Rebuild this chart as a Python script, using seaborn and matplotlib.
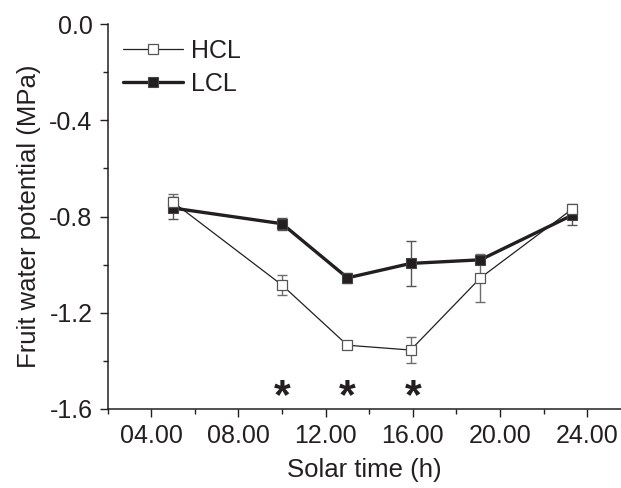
import numpy as np
import pandas as pd
import matplotlib
matplotlib.use("Agg")
import matplotlib.pyplot as plt
import seaborn as sns
from matplotlib.ticker import MultipleLocator

# datos
hours = [5, 10, 13, 15.9, 19.1, 23.3]
hcl = [-0.74, -1.085, -1.335, -1.355, -1.055, -0.77]
hcl_err = [0.035, 0.04, 0.01, 0.055, 0.10, 0.02]
lcl = [-0.765, -0.83, -1.055, -0.995, -0.98, -0.795]
lcl_err = [0.045, 0.025, 0.02, 0.095, 0.015, 0.04]
star_hours = [10, 13, 16]
x_ticks = [4, 8, 12, 16, 20, 24]
x_labels = ["04.00", "08.00", "12.00", "16.00", "20.00", "24.00"]
y_ticks = [0.0, -0.4, -0.8, -1.2, -1.6]
y_labels = ["0.0", "-0.4", "-0.8", "-1.2", "-1.6"]

sns.set_style("ticks")
plt.rcParams['font.family'] = ['Liberation Sans', 'DejaVu Sans']
plt.rcParams['axes.unicode_minus'] = False

df = pd.DataFrame({"hora": hours, "HCL": hcl, "LCL": lcl})

fig = plt.figure(figsize=(6.21, 4.88), dpi=100)
ax = fig.add_axes([0.1734, 0.1619, 0.8266, 0.7889])

ink = "#231f20"
# barras de error
ax.errorbar(hours, hcl, yerr=hcl_err, fmt="none", ecolor="#6d6d6d",
            elinewidth=1, capsize=3.5, capthick=1, zorder=2)
ax.errorbar(hours, lcl, yerr=lcl_err, fmt="none", ecolor="#555555",
            elinewidth=1, capsize=3.5, capthick=1, zorder=2)

sns.lineplot(data=df, x="hora", y="LCL", ax=ax, color=ink, lw=2.4,
             marker="s", markersize=7, markerfacecolor=ink,
             markeredgecolor="#444444", markeredgewidth=0.8, label="LCL", zorder=3)
sns.lineplot(data=df, x="hora", y="HCL", ax=ax, color=ink, lw=0.9,
             marker="s", markersize=7, markerfacecolor="white",
             markeredgecolor="#555555", markeredgewidth=0.9, label="HCL", zorder=4)

for h in star_hours:
    ax.text(h, -1.55, "*", ha="center", va="center", fontsize=31,
            fontweight="bold", color=ink)

ax.set_xlim(2, 25.55)
ax.set_ylim(-1.6, 0)
ax.set_xticks(x_ticks)
ax.set_xticklabels(x_labels)
ax.set_yticks(y_ticks)
ax.set_yticklabels(y_labels)
ax.xaxis.set_minor_locator(MultipleLocator(2))
ax.yaxis.set_minor_locator(MultipleLocator(0.2))
ax.tick_params(which="major", length=6, width=1, color=ink, labelsize=18,
               labelcolor=ink, pad=5)
ax.tick_params(which="minor", length=3.5, width=1, color=ink)

for s in ["top", "right"]:
    ax.spines[s].set_visible(False)
for s in ["left", "bottom"]:
    ax.spines[s].set_color(ink)
    ax.spines[s].set_linewidth(1.1)

ax.set_xlabel("Solar time (h)", fontsize=18.5, color=ink, labelpad=7)
ax.set_ylabel("Fruit water potential (MPa)", fontsize=18.5, color=ink, labelpad=6)

handles, labels = ax.get_legend_handles_labels()
order = [labels.index("HCL"), labels.index("LCL")]
ax.legend([handles[i] for i in order], [labels[i] for i in order],
          loc="upper left", bbox_to_anchor=(0.0, 1.0), frameon=False,
          fontsize=18, handlelength=2.4, handletextpad=0.35,
          labelspacing=0.35, borderaxespad=0.2, labelcolor=ink)

fig.savefig("out.png", dpi=100)
